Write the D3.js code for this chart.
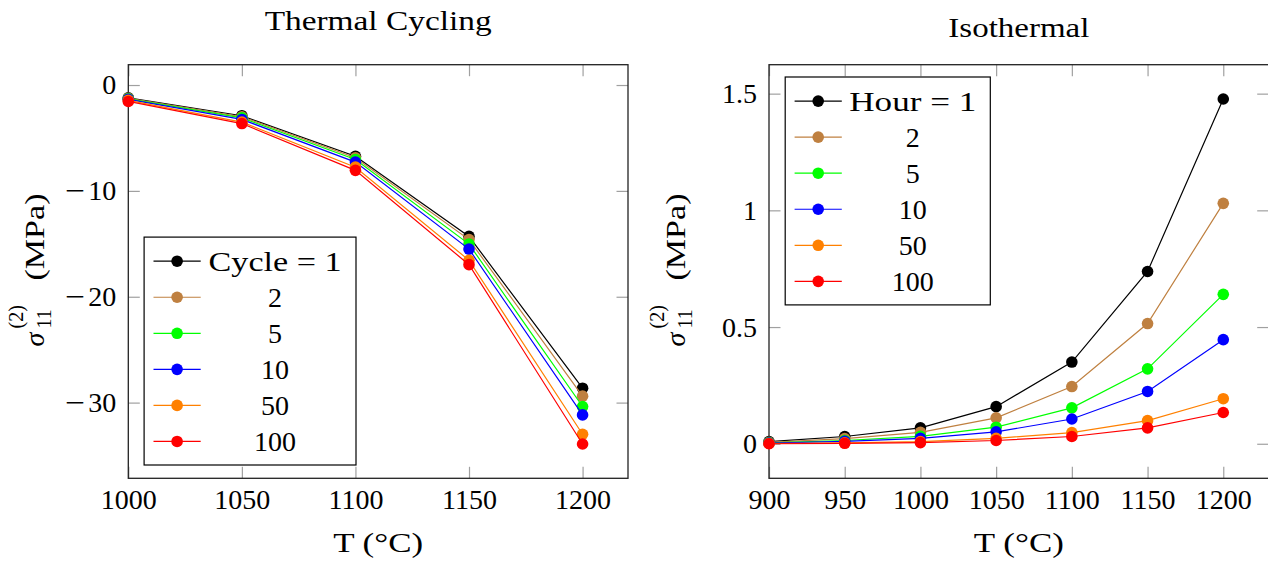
<!DOCTYPE html>
<html lang="en">
<head>
<meta charset="UTF-8">
<title>sigma11 vs T</title>
<style>
  body { margin: 0; background: #fff; }
  svg { display: block; }
</style>
</head>
<body>
<script src="https://cdn.jsdelivr.net/npm/d3@7"></script>
<script>
// ---- thermal cycling panel ----
var tcTemps    = [1000, 1050, 1100, 1150, 1200];
var tcCycle1   = [-1.20, -2.90, -6.73, -14.30, -28.64];
var tcCycle2   = [-1.25, -3.00, -6.87, -14.60, -29.39];
var tcCycle5   = [-1.30, -3.10, -7.04, -15.03, -30.37];
var tcCycle10  = [-1.35, -3.25, -7.28, -15.50, -31.16];
var tcCycle50  = [-1.45, -3.50, -7.76, -16.56, -32.99];
var tcCycle100 = [-1.55, -3.64, -8.06, -16.97, -33.91];
var tcLegend   = ['Cycle = 1', '2', '5', '10', '50', '100'];
var tcXTicks   = [1000, 1050, 1100, 1150, 1200];
var tcYTicks   = [0, -10, -20, -30];

// ---- isothermal panel ----
var isoTemps   = [900, 950, 1000, 1050, 1100, 1150, 1200];
var isoHour1   = [0.009, 0.031, 0.068, 0.159, 0.350, 0.738, 1.477];
var isoHour2   = [0.006, 0.022, 0.049, 0.111, 0.245, 0.515, 1.030];
var isoHour5   = [0.004, 0.014, 0.032, 0.071, 0.154, 0.321, 0.640];
var isoHour10  = [0.003, 0.010, 0.023, 0.051, 0.106, 0.224, 0.446];
var isoHour50  = [0.001, 0.004, 0.009, 0.023, 0.048, 0.099, 0.193];
var isoHour100 = [0.000, 0.002, 0.005, 0.014, 0.031, 0.068, 0.134];
var isoLegend  = ['Hour = 1', '2', '5', '10', '50', '100'];
var isoXTicks  = [900, 950, 1000, 1050, 1100, 1150, 1200];
var isoYTicks  = [0, 0.5, 1, 1.5];

var colors = ['#000000', '#bf8040', '#00ff00', '#0000ff', '#ff8000', '#ff0000'];

var width = 1268, height = 564;
var plotTop = 64.7, plotW = 499.7, plotH = 413.6;
var tickLen = 11.5;
var font = "'Liberation Serif', 'Times New Roman', serif";
var fs = 28;

var svg = d3.select('body').append('svg')
    .attr('width', width)
    .attr('height', height)
    .style('font-family', font);

var panels = [
  { left: 128.3, title: 'Thermal Cycling', titleY: 30, titleLen: 227,
    temps: tcTemps, series: [tcCycle1, tcCycle2, tcCycle5, tcCycle10, tcCycle50, tcCycle100],
    legend: tcLegend, legendLen: 133, xTicks: tcXTicks, yTicks: tcYTicks,
    xDomain: [1000, 1220], yDomain: [-37.15, 1.92], yFmt: d3.format('d'),
    legendBox: { dx: 15.8, dy: 172.4, w: 211.9 } },
  { left: 769, title: 'Isothermal', titleY: 36.6, titleLen: 141,
    temps: isoTemps, series: [isoHour1, isoHour2, isoHour5, isoHour10, isoHour50, isoHour100],
    legend: isoLegend, legendLen: 127, xTicks: isoXTicks, yTicks: isoYTicks,
    xDomain: [900, 1230], yDomain: [-0.148, 1.624], yFmt: d3.format('~g'),
    legendBox: { dx: 16.2, dy: 12.3, w: 205.1 } }
];

panels.forEach(function(p) {
  var g = svg.append('g');
  var x = d3.scaleLinear().domain(p.xDomain).range([p.left, p.left + plotW]);
  var y = d3.scaleLinear().domain(p.yDomain).range([plotTop + plotH, plotTop]);
  var none = function() { return ''; };

  // ticks on all four sides, pointing inward
  var bottom = g.append('g')
      .attr('transform', 'translate(0,' + (plotTop + plotH) + ')')
      .call(d3.axisBottom(x).tickValues(p.xTicks).tickSizeInner(-tickLen).tickSizeOuter(0).tickFormat(d3.format('d')));
  bottom.selectAll('text').attr('y', 30.7).attr('dy', 0);

  var leftAx = g.append('g')
      .attr('transform', 'translate(' + p.left + ',0)')
      .call(d3.axisLeft(y).tickValues(p.yTicks).tickSizeInner(-tickLen).tickSizeOuter(0).tickPadding(12).tickFormat(p.yFmt));

  // latex minus is a long bar: split it off and widen it
  leftAx.selectAll('text').filter(function(d) { return d < 0; })
      .each(function(d) {
        var t = d3.select(this).text('');
        t.append('tspan')
            .attr('textLength', 20)
            .attr('lengthAdjust', 'spacingAndGlyphs')
            .text('\u2212');
        t.append('tspan')
            .attr('dx', 3)
            .text(Math.abs(d));
      });

  var topAx = g.append('g')
      .attr('transform', 'translate(0,' + plotTop + ')')
      .call(d3.axisTop(x).tickValues(p.xTicks).tickSizeInner(-tickLen).tickSizeOuter(0).tickFormat(none));
  var rightAx = g.append('g')
      .attr('transform', 'translate(' + (p.left + plotW) + ',0)')
      .call(d3.axisRight(y).tickValues(p.yTicks).tickSizeInner(-tickLen).tickSizeOuter(0).tickFormat(none));

  [bottom, leftAx, topAx, rightAx].forEach(function(a) {
    a.select('.domain').remove();
    a.selectAll('line').attr('stroke', '#a0a0a0').attr('stroke-width', 1.2);
    a.attr('font-family', font).attr('font-size', fs);
    a.selectAll('text').attr('fill', '#000');
  });

  g.append('rect')
      .attr('x', p.left).attr('y', plotTop)
      .attr('width', plotW).attr('height', plotH)
      .attr('fill', 'none')
      .attr('stroke', '#222')
      .attr('stroke-width', 1.3);

  // series
  var line = d3.line()
      .x(function(d, i) { return x(p.temps[i]); })
      .y(function(d) { return y(d); });

  p.series.forEach(function(vals, k) {
    g.append('path')
        .datum(vals)
        .attr('d', line)
        .attr('fill', 'none')
        .attr('stroke', colors[k])
        .attr('stroke-width', 1.2);
    g.selectAll('.pt' + k)
        .data(vals)
        .enter()
        .append('circle')
        .attr('class', 'pt' + k)
        .attr('cx', function(d, i) { return x(p.temps[i]); })
        .attr('cy', function(d) { return y(d); })
        .attr('r', 5.8)
        .attr('fill', colors[k]);
  });

  // legend
  var lb = p.legendBox;
  var lx = p.left + lb.dx, ly = plotTop + lb.dy, rowH = 36.05;
  var lh = rowH * p.legend.length + 11.6;
  g.append('rect')
      .attr('x', lx).attr('y', ly)
      .attr('width', lb.w).attr('height', lh)
      .attr('fill', '#fff')
      .attr('stroke', '#000')
      .attr('stroke-width', 1.2);
  p.legend.forEach(function(name, k) {
    var cy = ly + 24.1 + k * rowH;
    g.append('line')
        .attr('x1', lx + 9.4).attr('x2', lx + 56.6)
        .attr('y1', cy).attr('y2', cy)
        .attr('stroke', colors[k]).attr('stroke-width', 1.2);
    g.append('circle')
        .attr('cx', lx + 33).attr('cy', cy).attr('r', 5.8)
        .attr('fill', colors[k]);
    var t = g.append('text')
        .attr('x', lx + (lb.w + 50) / 2)
        .attr('y', cy + 9.5)
        .attr('text-anchor', 'middle')
        .attr('font-size', fs)
        .text(name);
    if (k === 0) t.attr('textLength', p.legendLen).attr('lengthAdjust', 'spacingAndGlyphs');
  });

  // title
  g.append('text')
      .attr('x', p.left + plotW / 2)
      .attr('y', p.titleY)
      .attr('text-anchor', 'middle')
      .attr('font-size', fs)
      .attr('textLength', p.titleLen)
      .attr('lengthAdjust', 'spacingAndGlyphs')
      .text(p.title);

  // x label
  g.append('text')
      .attr('x', p.left + plotW / 2)
      .attr('y', 552)
      .attr('text-anchor', 'middle')
      .attr('font-size', fs)
      .attr('textLength', 90)
      .attr('lengthAdjust', 'spacingAndGlyphs')
      .text('T (°C)');

  // y label, rotated
  var yl = g.append('g')
      .attr('transform', 'translate(' + (p.left - 84) + ',' + (plotTop + plotH / 2) + ') rotate(-90)');
  yl.append('text')
      .attr('x', -75).attr('y', 0)
      .attr('font-size', fs)
      .attr('font-style', 'italic')
      .text('σ');
  yl.append('text')
      .attr('x', -57).attr('y', 7)
      .attr('font-size', 20)
      .text('11');
  yl.append('text')
      .attr('x', -57).attr('y', -21)
      .attr('font-size', 20)
      .text('(2)');
  yl.append('text')
      .attr('x', -9).attr('y', 0)
      .attr('font-size', fs)
      .attr('textLength', 87)
      .attr('lengthAdjust', 'spacingAndGlyphs')
      .text('(MPa)');
});
</script>
</body>
</html>
